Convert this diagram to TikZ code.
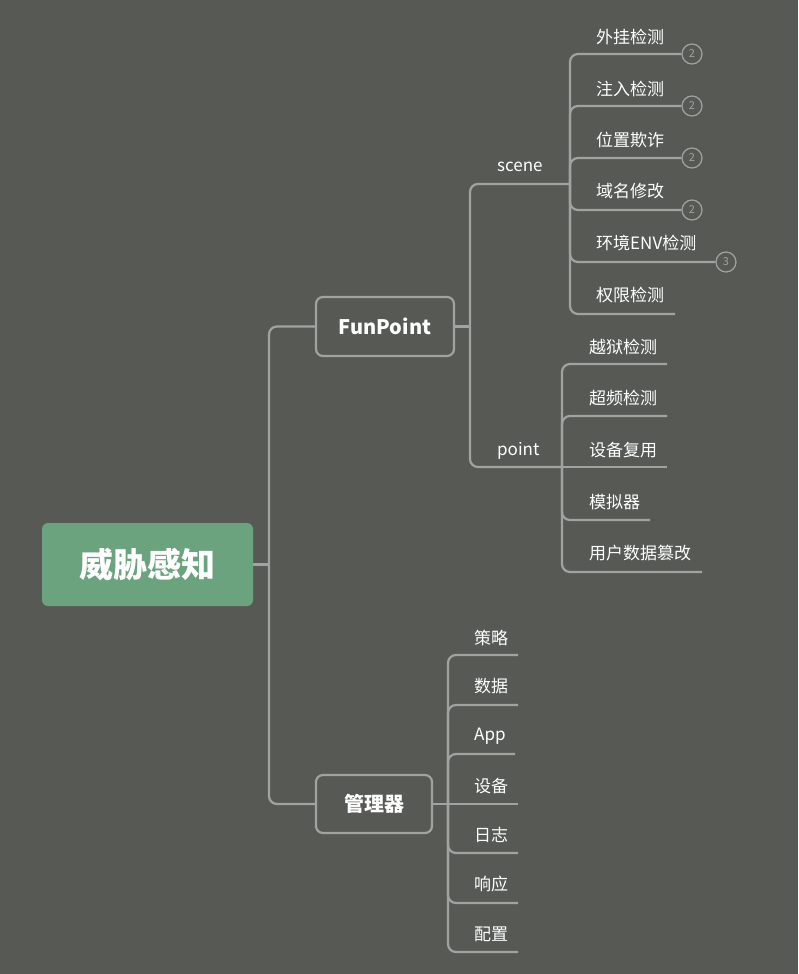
\documentclass[tikz,border=0pt]{standalone}
\usepackage{fontspec}
\setmainfont{Noto Sans CJK SC}
\definecolor{bg}{HTML}{575955}
\definecolor{wire}{HTML}{A2A3A0}
\definecolor{rootgreen}{HTML}{6AA37D}
\begin{document}
\begin{tikzpicture}[x=1pt,y=-1pt,
  wire/.style={draw=wire, line width=2.2pt},
  elbow/.style={wire, rounded corners=8pt},
  rootbox/.style={fill=rootgreen, rounded corners=6pt, minimum width=211pt,
    minimum height=83pt, text=white, font=\fontsize{34}{40}\selectfont\bfseries},
  mainbox/.style={draw=wire, line width=2.2pt, rounded corners=7pt, fill=bg,
    text=white, font=\fontsize{20}{24}\selectfont\bfseries},
  leaf/.style={anchor=west, inner sep=0pt, text=white, yshift=-1.5pt,
    font=\fontsize{17}{20}\selectfont},
  badge/.style={circle, draw=wire, line width=1.2pt, minimum size=20pt,
    inner sep=0pt, fill=bg, text=wire, font=\fontsize{11}{12}\selectfont}
]
% canvas
\useasboundingbox (0,0) rectangle (798,974);
\fill[bg] (0,0) rectangle (798,974);

% main topics
\node[rootbox] (root) at (147.5,564.5) {威胁感知};
\node[mainbox, minimum width=138pt, minimum height=59pt] (fp) at (385,326.5) {FunPoint};
\node[mainbox, minimum width=116pt, minimum height=58pt] (mgr) at (374,804) {管理器};

\coordinate (rootJ) at (269,564.5);
\draw[wire] (root.east) -- (rootJ);
\draw[elbow] (rootJ) |- (fp.west);
\draw[elbow] (rootJ) |- (mgr.west);

% FunPoint branch
\coordinate (fpJ) at (470,326.5);
\draw[wire] (fp.east) -- (fpJ);
\node[leaf] (scene) at (497,165) {scene};
\node[leaf] (point) at (497,449) {point};
\coordinate (sceneJ) at (570,184);
\coordinate (pointJ) at (562,467);
\draw[elbow] (fpJ) |- (sceneJ);
\draw[elbow] (fpJ) |- (pointJ);

% scene children
\node[leaf] (s1) at (596,35) {外挂检测};
\node[leaf] (s2) at (596,87) {注入检测};
\node[leaf] (s3) at (596,139) {位置欺诈};
\node[leaf] (s4) at (596,190) {域名修改};
\node[leaf] (s5) at (596,242) {环境ENV检测};
\node[leaf] (s6) at (596,294) {权限检测};
\node[badge] (b1) at (692,54) {2};
\node[badge] (b2) at (692,106) {2};
\node[badge] (b3) at (692,158) {2};
\node[badge] (b4) at (692,210) {2};
\node[badge] (b5) at (726,262) {3};
\coordinate (s6e) at (675,314);
\foreach \b in {b1,b2,b3,b4,b5}
  \draw[elbow] (sceneJ) |- (\b.west);
\draw[elbow] (sceneJ) |- (s6e);

% point children
\node[leaf] (p1) at (589,345) {越狱检测};
\node[leaf] (p2) at (589,397) {超频检测};
\node[leaf] (p3) at (589,449) {设备复用};
\node[leaf] (p4) at (589,501) {模拟器};
\node[leaf] (p5) at (589,552) {用户数据篡改};
\coordinate (p1e) at (667,364);
\coordinate (p2e) at (667,416);
\coordinate (p3e) at (667,467);
\coordinate (p4e) at (650,520);
\coordinate (p5e) at (702,572);
\draw[elbow] (pointJ) |- (p1e);
\draw[elbow] (pointJ) |- (p2e);
\draw[wire] (pointJ) -- (p3e);
\draw[elbow] (pointJ) |- (p4e);
\draw[elbow] (pointJ) |- (p5e);

% manager children
\coordinate (mgrJ) at (448,804);
\draw[wire] (mgr.east) -- (mgrJ);
\node[leaf] (m1) at (474,636) {策略};
\node[leaf] (m2) at (474,685) {数据};
\node[leaf] (m3) at (474,735) {App};
\node[leaf] (m4) at (474,785) {设备};
\node[leaf] (m5) at (474,833) {日志};
\node[leaf] (m6) at (474,883) {响应};
\node[leaf] (m7) at (474,933) {配置};
\coordinate (m1e) at (518,655);
\coordinate (m2e) at (518,705);
\coordinate (m3e) at (515,754);
\coordinate (m4e) at (518,804);
\coordinate (m5e) at (518,853);
\coordinate (m6e) at (518,903);
\coordinate (m7e) at (518,952);
\foreach \m in {m1e,m2e,m3e,m5e,m6e,m7e}
  \draw[elbow] (mgrJ) |- (\m);
\draw[wire] (mgrJ) -- (m4e);
\end{tikzpicture}
\end{document}
